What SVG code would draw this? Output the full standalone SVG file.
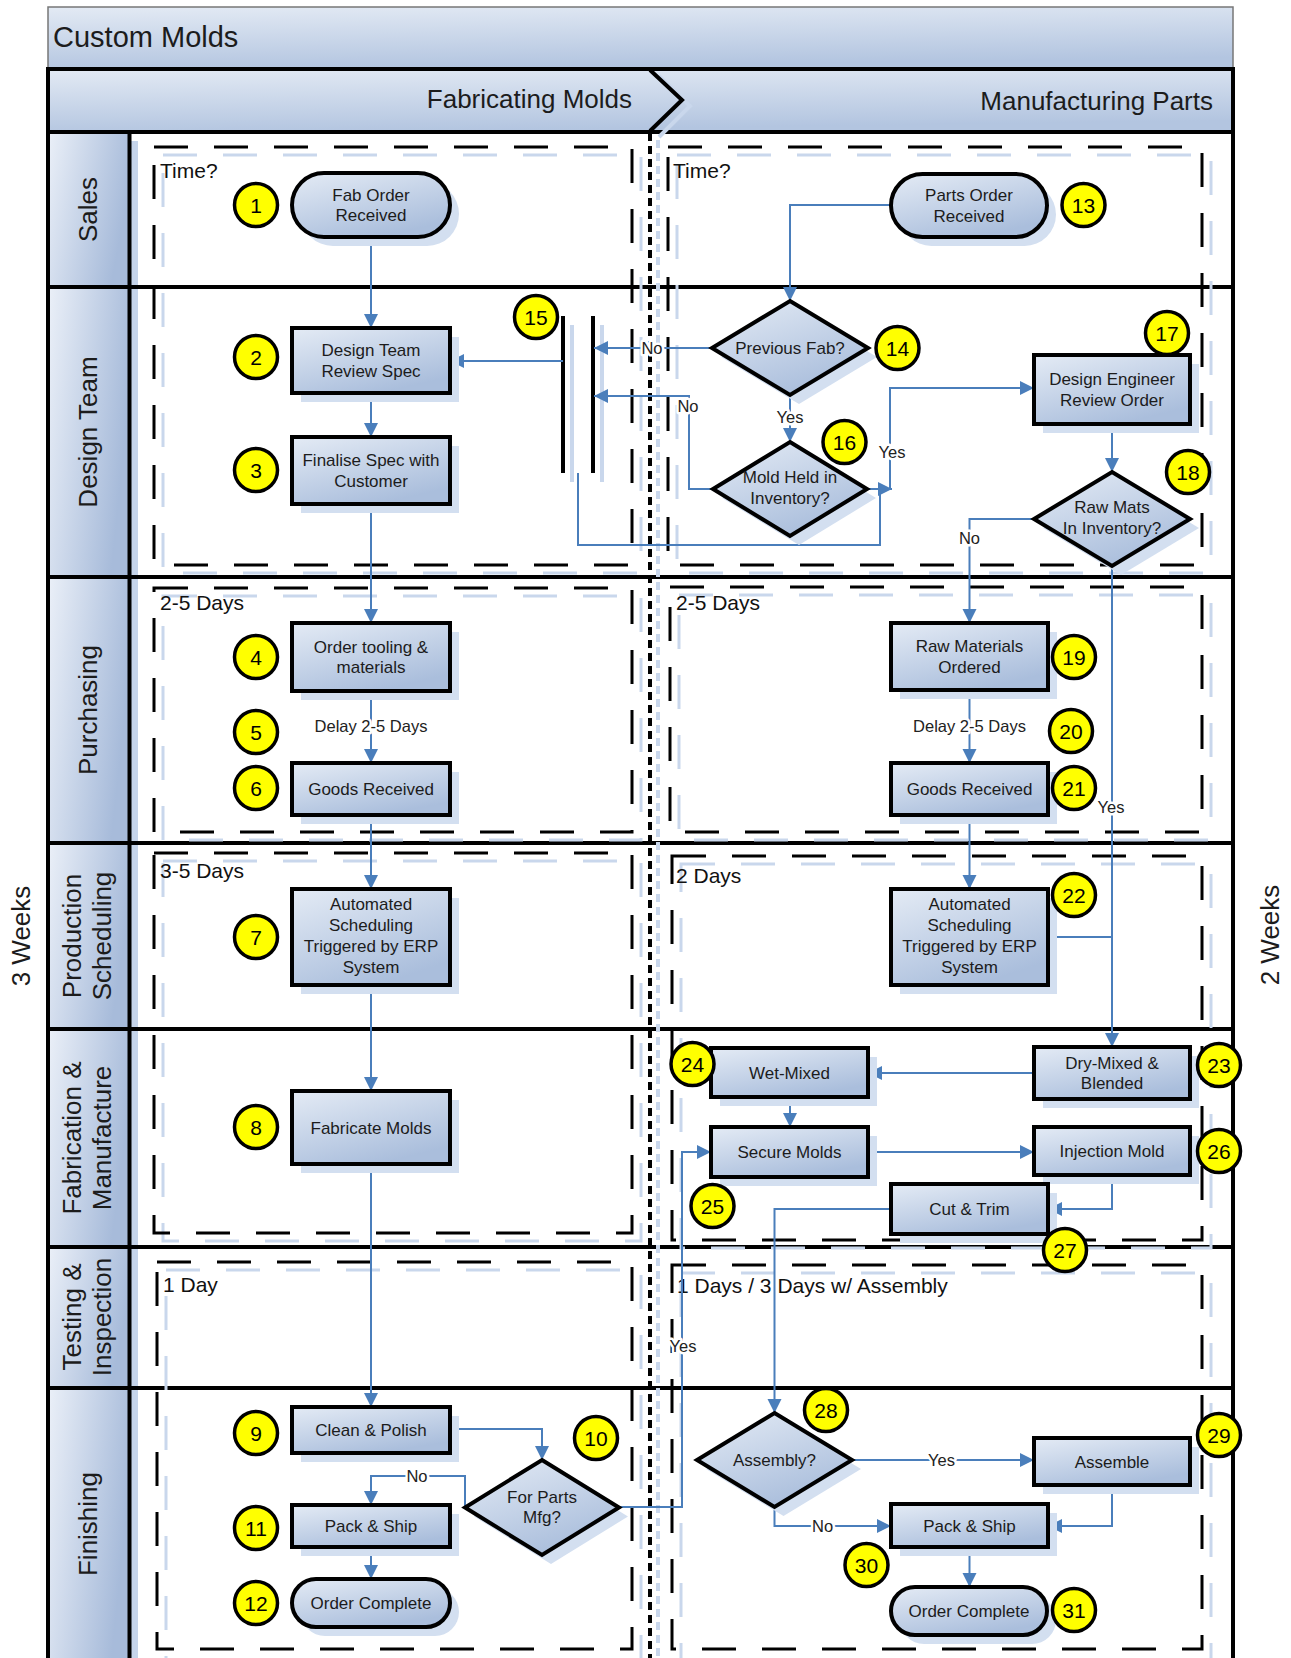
<svg xmlns="http://www.w3.org/2000/svg" width="1291" height="1658" viewBox="0 0 1291 1658">
<defs>
<linearGradient id="gTitle" x1="0" y1="0" x2="0.25" y2="1"><stop offset="0" stop-color="#e3eaf4"/><stop offset="1" stop-color="#b3c5e0"/></linearGradient>
<linearGradient id="gLane" x1="0" y1="0" x2="1" y2="0.35"><stop offset="0" stop-color="#ebf0f8"/><stop offset="1" stop-color="#a7bbda"/></linearGradient>
<linearGradient id="gNode" x1="0" y1="0" x2="0.55" y2="1"><stop offset="0" stop-color="#e4ebf5"/><stop offset="1" stop-color="#aabedc"/></linearGradient>
<marker id="ar" markerUnits="userSpaceOnUse" markerWidth="15" markerHeight="15" refX="14" refY="7" orient="auto"><path d="M0,0 L14,7 L0,14 z" fill="#4a7ebb"/></marker>
<style>
text{font-family:"Liberation Sans",Arial,sans-serif;fill:#1c1c1c}
.nt{font-size:17px;text-anchor:middle}
.sh{fill:#d3dff0;stroke:none}
.bx{fill:url(#gNode);stroke:#000;stroke-width:4}
.mk circle{fill:#ffff00;stroke:#000;stroke-width:3.5}
.mk text{font-size:21px;text-anchor:middle;fill:#000}
.ln{fill:none;stroke:#000;stroke-width:4}
.lh{fill:url(#gLane);stroke:#000;stroke-width:4}
.lt{font-size:26px;text-anchor:middle}
.tm{font-size:21px;fill:#111}
.db{fill:none;stroke:#000;stroke-width:3;stroke-dasharray:34 26}
.dbs{fill:none;stroke:#c9d7ec;stroke-width:3;stroke-dasharray:34 26}
.cn path{fill:none;stroke:#4a7ebb;stroke-width:2}
.cn .a{marker-end:url(#ar)}
.cl{font-size:16.5px;text-anchor:middle;fill:#222;paint-order:stroke;stroke:#fff;stroke-width:5px;stroke-linejoin:round}
</style>
</defs>
<rect width="1291" height="1658" fill="#fff"/>
<!-- title -->
<g id="title">
<rect x="48" y="7" width="1185" height="62" fill="url(#gTitle)" stroke="#777" stroke-width="1.5"/>
<text x="53" y="47" font-size="29">Custom Molds</text>
</g>
<!-- phase header -->
<g id="phases">
<rect x="48" y="69" width="1185" height="63" fill="url(#gTitle)" stroke="#000" stroke-width="4"/>
<polyline points="659,76 690,106 659,137" fill="none" stroke="#c9d7ec" stroke-width="4"/>
<polyline points="650,70 682,100 650,131" fill="none" stroke="#000" stroke-width="4"/>
<text x="632" y="108" font-size="26" text-anchor="end">Fabricating Molds</text>
<text x="1213" y="110" font-size="26" text-anchor="end">Manufacturing Parts</text>
</g>
<!-- lanes -->
<g id="lanes">
<rect x="57" y="141" width="81" height="155" class="sh" fill="#c5d4ea" style="fill:#c5d4ea"/>
<rect x="57" y="296" width="81" height="290" style="fill:#c5d4ea"/>
<rect x="57" y="586" width="81" height="266" style="fill:#c5d4ea"/>
<rect x="57" y="852" width="81" height="186" style="fill:#c5d4ea"/>
<rect x="57" y="1038" width="81" height="218" style="fill:#c5d4ea"/>
<rect x="57" y="1256" width="81" height="141" style="fill:#c5d4ea"/>
<rect x="57" y="1397" width="81" height="270" style="fill:#c5d4ea"/>
<rect x="48" y="132" width="81.5" height="155" class="lh"/>
<rect x="48" y="287" width="81.5" height="290" class="lh"/>
<rect x="48" y="577" width="81.5" height="266" class="lh"/>
<rect x="48" y="843" width="81.5" height="186" class="lh"/>
<rect x="48" y="1029" width="81.5" height="218" class="lh"/>
<rect x="48" y="1247" width="81.5" height="141" class="lh"/>
<rect x="48" y="1388" width="81.5" height="275" class="lh"/>
<path class="ln" d="M48,132 V1658 M1233,132 V1658 M48,287 H1233 M48,577 H1233 M48,843 H1233 M48,1029 H1233 M48,1247 H1233 M48,1388 H1233"/>
<text class="lt" transform="translate(97,209.5) rotate(-90)">Sales</text>
<text class="lt" transform="translate(97,432) rotate(-90)">Design Team</text>
<text class="lt" transform="translate(97,710) rotate(-90)">Purchasing</text>
<text class="lt" transform="translate(81,936) rotate(-90)">Production</text>
<text class="lt" transform="translate(111,936) rotate(-90)">Scheduling</text>
<text class="lt" transform="translate(81,1138) rotate(-90)">Fabrication &amp;</text>
<text class="lt" transform="translate(111,1138) rotate(-90)">Manufacture</text>
<text class="lt" transform="translate(81,1317) rotate(-90)">Testing &amp;</text>
<text class="lt" transform="translate(111,1317) rotate(-90)">Inspection</text>
<text class="lt" transform="translate(97,1524) rotate(-90)">Finishing</text>
<text class="lt" transform="translate(30,936) rotate(-90)">3 Weeks</text>
<text class="lt" transform="translate(1279,935) rotate(-90)">2 Weeks</text>
</g>
<!-- time boxes -->
<g id="timeboxes">
<rect x="163" y="155" width="478" height="418" class="dbs"/>
<rect x="677" y="155" width="534" height="418" class="dbs"/>
<rect x="163" y="596" width="478" height="244" class="dbs"/>
<rect x="679" y="595" width="532" height="245" class="dbs"/>
<rect x="163" y="861" width="478" height="380" class="dbs"/>
<rect x="681" y="864" width="530" height="384" class="dbs"/>
<rect x="166" y="1270" width="475" height="395" class="dbs"/>
<rect x="681" y="1273" width="530" height="392" class="dbs"/>
<line x1="658" y1="140" x2="658" y2="1658" stroke="#c9d7ec" stroke-width="4" stroke-dasharray="8 5"/>
<rect x="154" y="147" width="478" height="418" class="db"/>
<rect x="668" y="147" width="534" height="418" class="db"/>
<rect x="154" y="588" width="478" height="244" class="db"/>
<rect x="670" y="587" width="532" height="245" class="db"/>
<rect x="154" y="853" width="478" height="380" class="db"/>
<rect x="672" y="856" width="530" height="384" class="db"/>
<rect x="157" y="1262" width="475" height="387" class="db"/>
<rect x="672" y="1265" width="530" height="384" class="db"/>
<line x1="650" y1="133" x2="650" y2="1658" stroke="#000" stroke-width="4" stroke-dasharray="8 5"/>
<text class="tm" x="160" y="178">Time?</text>
<text class="tm" x="673" y="178">Time?</text>
<text class="tm" x="160" y="610">2-5 Days</text>
<text class="tm" x="676" y="610">2-5 Days</text>
<text class="tm" x="160" y="878">3-5 Days</text>
<text class="tm" x="676" y="883">2 Days</text>
<text class="tm" x="163" y="1292">1 Day</text>
<text class="tm" x="677" y="1293">1 Days / 3 Days w/ Assembly</text>
</g>
<!-- shadows of bars -->
<g id="n15">
<path d="M572,325 V482 M602,325 V482" stroke="#c9d7ec" stroke-width="4" fill="none"/>
<path d="M563,316 V473 M593,316 V473" stroke="#000" stroke-width="4" fill="none"/>
</g>
<!-- connectors -->
<g id="connectors" class="cn">
<path class="a" d="M371,237 V328"/>
<path class="a" d="M371,393 V437"/>
<path class="a" d="M371,504 V623"/>
<path class="a" d="M371,691 V763"/>
<path class="a" d="M371,815 V889"/>
<path class="a" d="M371,985 V1091"/>
<path class="a" d="M371,1164 V1407"/>
<path class="a" d="M450,1429 H542 V1460"/>
<path class="a" d="M465,1507 V1476 H371 V1505"/>
<path class="a" d="M371,1547 V1579"/>
<path class="a" d="M619,1507 H682 V1152 H711"/>
<path class="a" d="M891,205 H790 V301"/>
<path class="a" d="M712,348 H594"/>
<path class="a" d="M713,489 H689 V396 H594"/>
<path class="a" d="M790,395 V442"/>
<path class="a" d="M867,489 H892"/>
<path d="M578,473 V545 H880 V489"/>
<path class="a" d="M890,489 V388 H1034"/>
<path class="a" d="M1112,424 V472"/>
<path class="a" d="M1034,519 H969.5 V623"/>
<path class="a" d="M969.5,690 V763"/>
<path class="a" d="M969.5,815 V889"/>
<path class="a" d="M1112,566 V1047"/>
<path d="M1048,937 H1112"/>
<path class="a" d="M1034,1073 H868"/>
<path class="a" d="M790,1097 V1127"/>
<path class="a" d="M868,1152 H1034"/>
<path class="a" d="M1112,1175 V1209 H1048"/>
<path class="a" d="M891,1209 H774.5 V1413"/>
<path class="a" d="M852,1460 H1034"/>
<path class="a" d="M774.5,1507 V1526 H891"/>
<path class="a" d="M1112,1485 V1526 H1048"/>
<path class="a" d="M969.5,1547 V1587"/>
<path class="a" d="M563,361 H450"/>
<text class="cl" x="371" y="732">Delay 2-5 Days</text>
<text class="cl" x="969.5" y="732">Delay 2-5 Days</text>
<text class="cl" x="417" y="1482">No</text>
<text class="cl" x="683" y="1352">Yes</text>
<text class="cl" x="652" y="354">No</text>
<text class="cl" x="688" y="412">No</text>
<text class="cl" x="790" y="423">Yes</text>
<text class="cl" x="892" y="458">Yes</text>
<text class="cl" x="969.5" y="544">No</text>
<text class="cl" x="1111" y="813">Yes</text>
<text class="cl" x="941.5" y="1466">Yes</text>
<text class="cl" x="822.6" y="1532">No</text>
</g>
<!-- nodes left -->
<g id="n1"><rect class="sh" x="301" y="182" width="158" height="64" rx="32"/><rect class="bx" x="292" y="173" width="158" height="64" rx="32"/><text class="nt" x="371" y="200.5">Fab Order</text><text class="nt" x="371" y="221">Received</text></g>
<g id="n2"><rect class="sh" x="301" y="337" width="158" height="65"/><rect class="bx" x="292" y="328" width="158" height="65"/><text class="nt" x="371" y="356">Design Team</text><text class="nt" x="371" y="376.5">Review Spec</text></g>
<g id="n3"><rect class="sh" x="301" y="446" width="158" height="67"/><rect class="bx" x="292" y="437" width="158" height="67"/><text class="nt" x="371" y="466">Finalise Spec with</text><text class="nt" x="371" y="486.5">Customer</text></g>
<g id="n4"><rect class="sh" x="301" y="632" width="158" height="68"/><rect class="bx" x="292" y="623" width="158" height="68"/><text class="nt" x="371" y="652.5">Order tooling &amp;</text><text class="nt" x="371" y="673">materials</text></g>
<g id="n6"><rect class="sh" x="301" y="772" width="158" height="52"/><rect class="bx" x="292" y="763" width="158" height="52"/><text class="nt" x="371" y="795">Goods Received</text></g>
<g id="n7"><rect class="sh" x="301" y="898" width="158" height="96"/><rect class="bx" x="292" y="889" width="158" height="96"/><text class="nt" x="371" y="910">Automated</text><text class="nt" x="371" y="931">Scheduling</text><text class="nt" x="371" y="952">Triggered by ERP</text><text class="nt" x="371" y="973">System</text></g>
<g id="n8"><rect class="sh" x="301" y="1100" width="158" height="73"/><rect class="bx" x="292" y="1091" width="158" height="73"/><text class="nt" x="371" y="1133.5">Fabricate Molds</text></g>
<g id="n9"><rect class="sh" x="301" y="1416" width="158" height="46"/><rect class="bx" x="292" y="1407" width="158" height="46"/><text class="nt" x="371" y="1436">Clean &amp; Polish</text></g>
<g id="n10"><polygon class="sh" points="551,1469 628,1516.5 551,1564 474,1516.5"/><polygon class="bx" points="542,1460 619,1507.5 542,1555 465,1507.5"/><text class="nt" x="542" y="1502.5">For Parts</text><text class="nt" x="542" y="1522.5">Mfg?</text></g>
<g id="n11"><rect class="sh" x="301" y="1514" width="158" height="42"/><rect class="bx" x="292" y="1505" width="158" height="42"/><text class="nt" x="371" y="1532">Pack &amp; Ship</text></g>
<g id="n12"><rect class="sh" x="301" y="1588" width="158" height="48" rx="24"/><rect class="bx" x="292" y="1579" width="158" height="48" rx="24"/><text class="nt" x="371" y="1609">Order Complete</text></g>
<!-- nodes right -->
<g id="n13"><rect class="sh" x="900" y="183" width="156" height="63" rx="31.5"/><rect class="bx" x="891" y="174" width="156" height="63" rx="31.5"/><text class="nt" x="969" y="201">Parts Order</text><text class="nt" x="969" y="221.5">Received</text></g>
<g id="n14"><polygon class="sh" points="799,310 877,357 799,404 721,357"/><polygon class="bx" points="790,301 868,348 790,395 712,348"/><text class="nt" x="790" y="354">Previous Fab?</text></g>
<g id="n16"><polygon class="sh" points="799,451 876,498 799,545 722,498"/><polygon class="bx" points="790,442 867,489 790,536 713,489"/><text class="nt" x="790" y="483">Mold Held in</text><text class="nt" x="790" y="504">Inventory?</text></g>
<g id="n17"><rect class="sh" x="1043" y="364" width="156" height="69"/><rect class="bx" x="1034" y="355" width="156" height="69"/><text class="nt" x="1112" y="385">Design Engineer</text><text class="nt" x="1112" y="405.5">Review Order</text></g>
<g id="n18"><polygon class="sh" points="1121,481 1199,528 1121,575 1043,528"/><polygon class="bx" points="1112,472 1190,519 1112,566 1034,519"/><text class="nt" x="1112" y="513">Raw Mats</text><text class="nt" x="1112" y="534">In Inventory?</text></g>
<g id="n19"><rect class="sh" x="900" y="632" width="157" height="67"/><rect class="bx" x="891" y="623" width="157" height="67"/><text class="nt" x="969.5" y="652">Raw Materials</text><text class="nt" x="969.5" y="672.5">Ordered</text></g>
<g id="n21"><rect class="sh" x="900" y="772" width="157" height="52"/><rect class="bx" x="891" y="763" width="157" height="52"/><text class="nt" x="969.5" y="795">Goods Received</text></g>
<g id="n22"><rect class="sh" x="900" y="898" width="157" height="96"/><rect class="bx" x="891" y="889" width="157" height="96"/><text class="nt" x="969.5" y="910">Automated</text><text class="nt" x="969.5" y="931">Scheduling</text><text class="nt" x="969.5" y="952">Triggered by ERP</text><text class="nt" x="969.5" y="973">System</text></g>
<g id="n23"><rect class="sh" x="1043" y="1056" width="156" height="52"/><rect class="bx" x="1034" y="1047" width="156" height="52"/><text class="nt" x="1112" y="1068.5">Dry-Mixed &amp;</text><text class="nt" x="1112" y="1089">Blended</text></g>
<g id="n24"><rect class="sh" x="720" y="1057" width="157" height="49"/><rect class="bx" x="711" y="1048" width="157" height="49"/><text class="nt" x="789.5" y="1078.5">Wet-Mixed</text></g>
<g id="n25"><rect class="sh" x="720" y="1136" width="157" height="50"/><rect class="bx" x="711" y="1127" width="157" height="50"/><text class="nt" x="789.5" y="1158">Secure Molds</text></g>
<g id="n26"><rect class="sh" x="1043" y="1136" width="156" height="48"/><rect class="bx" x="1034" y="1127" width="156" height="48"/><text class="nt" x="1112" y="1157">Injection Mold</text></g>
<g id="n27"><rect class="sh" x="900" y="1193" width="157" height="50"/><rect class="bx" x="891" y="1184" width="157" height="50"/><text class="nt" x="969.5" y="1215">Cut &amp; Trim</text></g>
<g id="n28"><polygon class="sh" points="783.5,1422 861,1469 783.5,1516 706,1469"/><polygon class="bx" points="774.5,1413 852,1460 774.5,1507 697,1460"/><text class="nt" x="774.5" y="1466">Assembly?</text></g>
<g id="n29"><rect class="sh" x="1043" y="1447" width="156" height="47"/><rect class="bx" x="1034" y="1438" width="156" height="47"/><text class="nt" x="1112" y="1467.5">Assemble</text></g>
<g id="n30"><rect class="sh" x="900" y="1513" width="157" height="43"/><rect class="bx" x="891" y="1504" width="157" height="43"/><text class="nt" x="969.5" y="1531.5">Pack &amp; Ship</text></g>
<g id="n31"><rect class="sh" x="900" y="1596" width="156" height="48" rx="24"/><rect class="bx" x="891" y="1587" width="156" height="48" rx="24"/><text class="nt" x="969" y="1617">Order Complete</text></g>
<!-- step markers -->
<g id="markers" class="mk">
<circle cx="256" cy="205" r="21.5"/><text x="256" y="212.5">1</text>
<circle cx="256" cy="357" r="21.5"/><text x="256" y="364.5">2</text>
<circle cx="256" cy="470" r="21.5"/><text x="256" y="477.5">3</text>
<circle cx="256" cy="657" r="21.5"/><text x="256" y="664.5">4</text>
<circle cx="256" cy="732" r="21.5"/><text x="256" y="739.5">5</text>
<circle cx="256" cy="788" r="21.5"/><text x="256" y="795.5">6</text>
<circle cx="256" cy="937" r="21.5"/><text x="256" y="944.5">7</text>
<circle cx="256" cy="1127" r="21.5"/><text x="256" y="1134.5">8</text>
<circle cx="256" cy="1433" r="21.5"/><text x="256" y="1440.5">9</text>
<circle cx="596" cy="1438" r="21.5"/><text x="596" y="1445.5">10</text>
<circle cx="256" cy="1528" r="21.5"/><text x="256" y="1535.5">11</text>
<circle cx="256" cy="1603" r="21.5"/><text x="256" y="1610.5">12</text>
<circle cx="1083.5" cy="205" r="21.5"/><text x="1083.5" y="212.5">13</text>
<circle cx="897.5" cy="348" r="21.5"/><text x="897.5" y="355.5">14</text>
<circle cx="536" cy="317" r="21.5"/><text x="536" y="324.5">15</text>
<circle cx="844.5" cy="442" r="21.5"/><text x="844.5" y="449.5">16</text>
<circle cx="1167" cy="333" r="21.5"/><text x="1167" y="340.5">17</text>
<circle cx="1188" cy="472" r="21.5"/><text x="1188" y="479.5">18</text>
<circle cx="1074" cy="657" r="21.5"/><text x="1074" y="664.5">19</text>
<circle cx="1071" cy="731" r="21.5"/><text x="1071" y="738.5">20</text>
<circle cx="1074" cy="788" r="21.5"/><text x="1074" y="795.5">21</text>
<circle cx="1074" cy="895" r="21.5"/><text x="1074" y="902.5">22</text>
<circle cx="1219" cy="1065" r="21.5"/><text x="1219" y="1072.5">23</text>
<circle cx="692.5" cy="1064" r="21.5"/><text x="692.5" y="1071.5">24</text>
<circle cx="712.5" cy="1206" r="21.5"/><text x="712.5" y="1213.5">25</text>
<circle cx="1219" cy="1151" r="21.5"/><text x="1219" y="1158.5">26</text>
<circle cx="1065" cy="1250" r="21.5"/><text x="1065" y="1257.5">27</text>
<circle cx="826" cy="1410" r="21.5"/><text x="826" y="1417.5">28</text>
<circle cx="1219" cy="1435" r="21.5"/><text x="1219" y="1442.5">29</text>
<circle cx="866.5" cy="1565" r="21.5"/><text x="866.5" y="1572.5">30</text>
<circle cx="1074" cy="1610" r="21.5"/><text x="1074" y="1617.5">31</text>
</g>
</svg>
